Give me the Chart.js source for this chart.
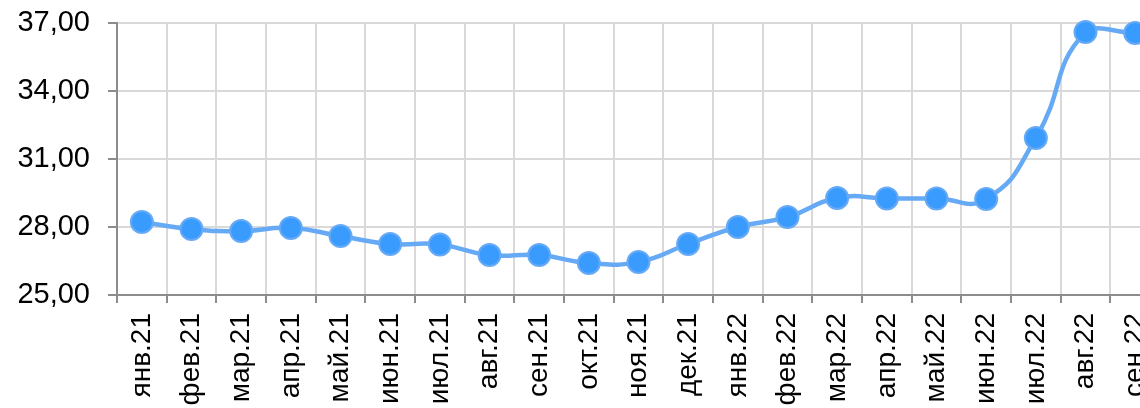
<!DOCTYPE html>
<html lang="ru">
<head>
<meta charset="utf-8">
<title>Динамика</title>
<script src="https://cdn.jsdelivr.net/npm/chart.js@4/dist/chart.umd.min.js"></script>
<style>
  html, body { margin: 0; padding: 0; background: #fff; overflow: hidden; }
  #priceChart { display: block; }
</style>
</head>
<body>
<!-- холст шире окна: последний месяц обрезается справа -->
<canvas id="priceChart" width="1173" height="408"></canvas>
<script>
// месяцы
const months = ['янв.21', 'фев.21', 'мар.21', 'апр.21', 'май.21', 'июн.21', 'июл.21',
  'авг.21', 'сен.21', 'окт.21', 'ноя.21', 'дек.21', 'янв.22', 'фев.22', 'мар.22',
  'апр.22', 'май.22', 'июн.22', 'июл.22', 'авг.22', 'сен.22'];

// значения
const values = [28.22, 27.91, 27.82, 27.96, 27.60, 27.25, 27.23, 26.76, 26.76, 26.41,
  26.46, 27.25, 28.00, 28.44, 29.28, 29.26, 29.26, 29.24, 31.93, 36.60, 36.56];

// шкала Y
const yMin = 25;
const yMax = 37;
const yStep = 3;

const ctx = document.getElementById('priceChart').getContext('2d');

new Chart(ctx, {
  type: 'line',
  data: {
    labels: months,
    datasets: [{
      data: values,
      borderColor: '#66a9f5',
      borderWidth: 4.5,
      tension: 0.5,
      pointRadius: 11,
      pointHoverRadius: 11,
      pointBackgroundColor: '#3a9bff',
      pointBorderColor: '#66aaf5',
      pointBorderWidth: 2,
      clip: false
    }]
  },
  options: {
    responsive: false,
    animation: false,
    layout: { padding: { top: 23, left: 0, right: 2, bottom: 0 } },
    plugins: {
      legend: { display: false },
      tooltip: { enabled: false }
    },
    scales: {
      x: {
        offset: true,
        afterFit: s => {
          s.height = 113;
          s.paddingLeft = 0;
          s.paddingRight = 0;
        },
        grid: {
          offset: true,
          color: '#d9d9d9',
          lineWidth: 2,
          tickColor: '#8c8c8c',
          tickLength: 8
        },
        border: { color: '#8c8c8c', width: 2 },
        ticks: {
          minRotation: 90,
          maxRotation: 90,
          autoSkip: false,
          padding: 10,
          color: '#000',
          font: { family: 'Liberation Sans, Arial, sans-serif', size: 28 }
        }
      },
      y: {
        min: yMin,
        max: yMax,
        afterFit: s => {
          s.width = 117;
          s.paddingTop = 0;
          s.paddingBottom = 0;
        },
        grid: {
          color: '#d9d9d9',
          lineWidth: 2,
          tickColor: '#8c8c8c',
          tickLength: 9
        },
        border: { color: '#8c8c8c', width: 2 },
        ticks: {
          stepSize: yStep,
          padding: 18,
          color: '#000',
          font: { family: 'Liberation Sans, Arial, sans-serif', size: 29 },
          callback: v => v.toFixed(2).replace('.', ',')
        }
      }
    }
  }
});
</script>
</body>
</html>
